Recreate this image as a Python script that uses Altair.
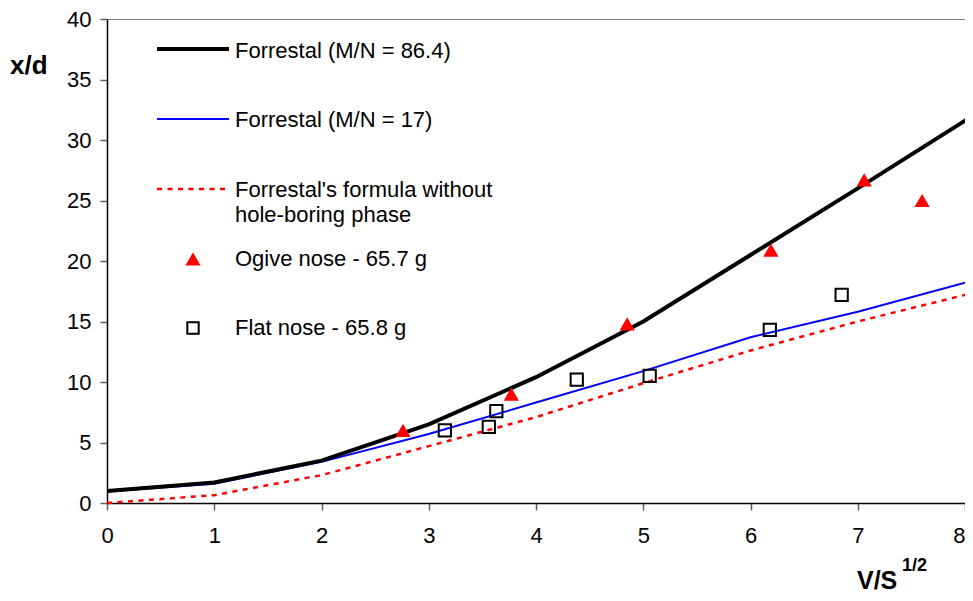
import altair as alt
import pandas as pd

# ---- data ----
x_curve = [0, 1, 2, 3, 4, 5, 6, 7, 8, 8.1]
y_mn86 = [1.0, 1.7, 3.5, 6.5, 10.4, 15.0, 20.5, 26.0, 31.6, 32.1]
y_mn17 = [0.95, 1.6, 3.4, 5.7, 8.3, 10.9, 13.7, 15.8, 18.2, 18.4]
y_nohole = [0.0, 0.65, 2.3, 4.7, 7.1, 9.9, 12.6, 15.0, 17.2, 17.4]

ogive_x = [2.76, 3.77, 4.85, 6.19, 7.06, 7.60]
ogive_y = [6.0, 9.0, 14.8, 20.9, 26.7, 25.0]
flat_x = [3.15, 3.56, 3.63, 4.38, 5.06, 6.18, 6.85]
flat_y = [6.0, 6.3, 7.6, 10.2, 10.5, 14.3, 17.2]

x_ticks = [0, 1, 2, 3, 4, 5, 6, 7, 8]
y_ticks = [0, 5, 10, 15, 20, 25, 30, 35, 40]

labels = [
    "Forrestal (M/N = 86.4)",
    "Forrestal (M/N = 17)",
    ["Forrestal's formula without", "hole-boring phase"],
    "Ogive nose - 65.7 g",
    "Flat nose - 65.8 g",
]

FONT = "Liberation Sans"
W, H = 858, 484

curves = pd.DataFrame({"x": x_curve, "a": y_mn86, "b": y_mn17, "c": y_nohole})
ogive = pd.DataFrame({"x": ogive_x, "y": ogive_y})
flat = pd.DataFrame({"x": flat_x, "y": flat_y})

xs = alt.Scale(domain=[0, 8], nice=False)
ys = alt.Scale(domain=[0, 40], nice=False)
xax = alt.Axis(values=x_ticks, title=None, format="d", labelFlush=False,
               labelAlign={"condition": {"test": "datum.value >= 8", "value": "right"},
                           "value": "center"})
yax = alt.Axis(values=y_ticks, title=None, format="d", labelFlush=False)

base = alt.Chart(curves)

line_a = base.mark_line(color="black", strokeWidth=4, clip=False).encode(
    x=alt.X("x:Q", scale=xs, axis=xax), y=alt.Y("a:Q", scale=ys, axis=yax))
line_b = base.mark_line(color="#0000ff", strokeWidth=2, clip=False).encode(
    x=alt.X("x:Q", scale=xs), y=alt.Y("b:Q", scale=ys))
line_c = base.mark_line(color="#ff0000", strokeWidth=2.5, strokeDash=[5, 5.5], clip=False).encode(
    x=alt.X("x:Q", scale=xs), y=alt.Y("c:Q", scale=ys))

pts_ogive = alt.Chart(ogive).mark_point(
    shape="triangle-up", filled=True, color="#ff0000", size=230, opacity=1).encode(
    x=alt.X("x:Q", scale=xs), y=alt.Y("y:Q", scale=ys))
pts_flat = alt.Chart(flat).mark_point(
    shape="square", filled=False, color="black", size=150, strokeWidth=2, opacity=1).encode(
    x=alt.X("x:Q", scale=xs), y=alt.Y("y:Q", scale=ys))

one = pd.DataFrame({"k": [0]})


def ltext(txt, x, y, size=22, bold=False):
    return alt.Chart(one).mark_text(
        align="left", baseline="alphabetic", font=FONT, fontSize=size,
        fontWeight="bold" if bold else "normal", color="black", lineHeight=25, clip=False
    ).encode(x=alt.value(x), y=alt.value(y), text=alt.value(txt))


def lrule(y, color, width, dash=None):
    kw = dict(color=color, strokeWidth=width)
    if dash:
        kw["strokeDash"] = dash
    return alt.Chart(one).mark_rule(**kw).encode(
        x=alt.value(50), x2=alt.value(122), y=alt.value(y))


legend = [
    lrule(30, "black", 4), ltext(labels[0], 128, 39),
    lrule(100, "#0000ff", 2), ltext(labels[1], 128, 108),
    lrule(170, "#ff0000", 2.5, [5, 5.5]), ltext(labels[2], 128, 178),
    alt.Chart(one).mark_point(shape="triangle-up", filled=True, color="#ff0000",
                              size=230, opacity=1).encode(x=alt.value(86), y=alt.value(240)),
    ltext(labels[3], 128, 247),
    alt.Chart(one).mark_point(shape="square", filled=False, color="black",
                              size=130, strokeWidth=2, opacity=1).encode(x=alt.value(86), y=alt.value(309)),
    ltext(labels[4], 128, 316),
]

titles = [
    ltext("x/d", -97, 55, size=26, bold=True),
    ltext("V/S", 750, 570, size=25, bold=True),
    ltext("1/2", 795, 552, size=18, bold=True),
]

chart = alt.layer(line_c, line_b, line_a, pts_flat, pts_ogive, *legend, *titles).properties(
    width=W, height=H,
    autosize=alt.AutoSizeParams(type="none"),
    padding={"left": 99, "top": 11, "right": 0, "bottom": 95},
    background="white",
).configure_view(
    stroke="#808080", strokeWidth=1
).configure_axis(
    grid=False, labelFont=FONT, labelFontSize=22, labelColor="black",
    domainColor="black", domainWidth=1.5, tickColor="#606060", tickWidth=1.5, tickSize=7,
).configure_axisX(labelPadding=15).configure_axisY(labelPadding=9)

chart.save("out.html", embed_options={"renderer": "svg", "actions": False})
